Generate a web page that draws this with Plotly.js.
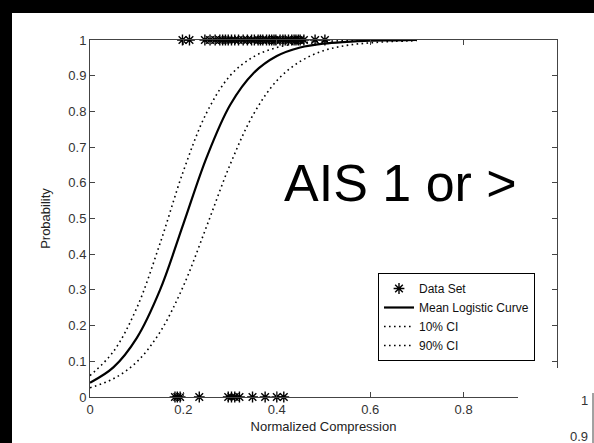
<!DOCTYPE html>
<html>
<head>
<meta charset="utf-8">
<script src="https://cdn.plot.ly/plotly-3.0.1.min.js"></script>
<style>html,body{margin:0;padding:0;background:#000;}#chart{width:594px;height:443px;}</style>
</head>
<body>
<div id="chart"></div>
<script>
// ---- data ----
const dataTopX = [0.198,0.213,0.246,0.257,0.268,0.278,0.284,0.290,0.296,0.303,0.310,0.318,0.328,0.337,0.346,0.352,0.360,0.365,0.370,0.378,0.384,0.389,0.394,0.398,0.407,0.413,0.418,0.425,0.432,0.437,0.441,0.446,0.450,0.458,0.482,0.503];
const dataBottomX = [0.182,0.187,0.193,0.234,0.296,0.303,0.310,0.320,0.348,0.375,0.400,0.415];
const curveX = [0,0.05,0.10,0.15,0.20,0.25,0.30,0.35,0.40,0.45,0.50,0.55,0.60,0.65,0.70];
const meanY  = [0.040,0.083,0.165,0.300,0.485,0.672,0.818,0.907,0.955,0.979,0.990,0.995,0.998,0.999,1.0];
const ci10Y  = [0.060,0.127,0.249,0.430,0.633,0.797,0.900,0.953,0.979,0.991,0.996,0.998,0.999,1.0,1.0];
const ci90Y  = [0.026,0.051,0.098,0.182,0.311,0.479,0.651,0.792,0.886,0.940,0.970,0.985,0.992,0.996,0.998];
const xTicks = [0,0.2,0.4,0.6,0.8,1];
const yTicks = [0,0.1,0.2,0.3,0.4,0.5,0.6,0.7,0.8,0.9,1];

const dataX = dataTopX.concat(dataBottomX);
const dataY = dataTopX.map(()=>1).concat(dataBottomX.map(()=>0));

const F = 'Liberation Sans, Arial, sans-serif';
const traces = [
  {x:dataX, y:dataY, mode:'markers', name:'Data Set', cliponaxis:false,
   marker:{symbol:'asterisk-open', size:9, color:'#000', line:{color:'#000', width:1.4}}},
  {x:curveX, y:meanY, mode:'lines', name:'Mean Logistic Curve',
   line:{color:'#000', width:2.2, shape:'spline'}},
  {x:curveX, y:ci10Y, mode:'lines', name:'10% CI',
   line:{color:'#000', width:1.6, dash:'1.6px,3.4px', shape:'spline'}},
  {x:curveX, y:ci90Y, mode:'lines', name:'90% CI',
   line:{color:'#000', width:1.6, dash:'1.6px,3.4px', shape:'spline'}}
];

const W = 467, H = 357, L = 90, T = 40;
const px = v => (v - L) / W;
const py = v => (T + H - v) / H;

const layout = {
  width:594, height:443,
  margin:{l:L, r:594-L-W, t:T, b:443-T-H},
  paper_bgcolor:'#fff', plot_bgcolor:'#fff',
  showlegend:true,
  font:{family:F, size:13, color:'#333'},
  xaxis:{range:[0,1], tickvals:xTicks, ticktext:xTicks.map(String),
    ticks:'inside', ticklen:5, tickcolor:'#444', showline:true, linecolor:'#444', linewidth:1,
    mirror:'ticks', showgrid:false, zeroline:false,
    tickfont:{family:F, size:13, color:'#333'},
    title:{text:'Normalized Compression', font:{family:F, size:13, color:'#222'}, standoff:6}},
  yaxis:{range:[0,1], tickvals:yTicks, ticktext:yTicks.map(String),
    ticks:'inside', ticklen:5, tickcolor:'#444', showline:true, linecolor:'#444', linewidth:1,
    mirror:'ticks', showgrid:false, zeroline:false,
    tickfont:{family:F, size:13, color:'#333'},
    title:{text:'Probability', font:{family:F, size:13, color:'#222'}, standoff:14}},
  legend:{x:px(378), y:py(273), xanchor:'left', yanchor:'top',
    bgcolor:'#fff', bordercolor:'#000', borderwidth:1,
    font:{family:F, size:12, color:'#111'}, tracegroupgap:0},
  annotations:[
    {xref:'paper', yref:'paper', x:px(282), y:py(183), xanchor:'left', yanchor:'middle',
     text:'AIS 1 or >', showarrow:false, font:{family:F, size:52, color:'#000'}},
    {xref:'paper', yref:'paper', x:px(590), y:py(400), xanchor:'right', yanchor:'middle',
     text:'1', showarrow:false, font:{family:F, size:13, color:'#333'}},
    {xref:'paper', yref:'paper', x:px(590), y:py(436), xanchor:'right', yanchor:'middle',
     text:'0.9', showarrow:false, font:{family:F, size:13, color:'#333'}}
  ],
  shapes:[
    {type:'rect', xref:'paper', yref:'paper', x0:px(0), x1:px(12), y0:py(443), y1:py(0),
     fillcolor:'#000', line:{width:0}, layer:'above'},
    {type:'rect', xref:'paper', yref:'paper', x0:px(0), x1:px(594), y0:py(13), y1:py(0),
     fillcolor:'#000', line:{width:0}, layer:'above'},
    {type:'rect', xref:'paper', yref:'paper', x0:px(518), x1:px(594), y0:py(443), y1:py(368),
     fillcolor:'#fff', line:{width:0}, layer:'above'},
    {type:'line', xref:'paper', yref:'paper', x0:px(593), x1:px(593), y0:py(393), y1:py(443),
     line:{color:'#444', width:1}, layer:'above'}
  ]
};

Plotly.newPlot('chart', traces, layout, {displayModeBar:false, staticPlot:true});
</script>
</body>
</html>
